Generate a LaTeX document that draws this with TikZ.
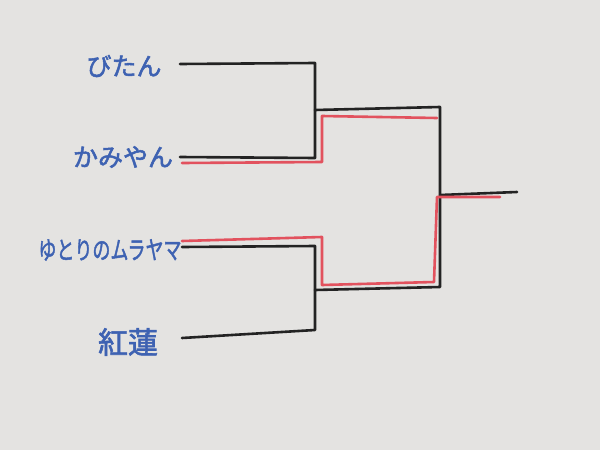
\documentclass[tikz,border=0pt]{standalone}
\usepackage{fontspec}
\newfontfamily\jpfont[FakeBold=2]{Noto Sans CJK JP}
\definecolor{board}{RGB}{228,227,225}
\definecolor{ink}{RGB}{62,98,178}
\definecolor{marker}{RGB}{35,35,35}
\definecolor{redmarker}{RGB}{226,82,94}

\begin{document}
\begin{tikzpicture}[x=1pt,y=-1pt,
  blk/.style={draw=marker,line width=2.6pt,line cap=round,line join=round},
  rd/.style={draw=redmarker,line width=2.6pt,line cap=round,line join=round},
  player/.style={text=ink,font=\jpfont\fontsize{25}{25}\selectfont,inner sep=0pt}]
\fill[board] (0,0) rectangle (600,450);
\useasboundingbox (0,0) rectangle (600,450);

\node[player] (bitan) at (124,66) {びたん};
\node[player] (kamiyan) at (123,157) {かみやん};
\node[player,xscale=0.72] (yutori) at (110,250) {ゆとりのムラヤマ};
\node[player,font=\jpfont\fontsize{30}{30}\selectfont] (guren) at (128,342) {紅蓮};

\path (180,64) coordinate(A);
\path (315,63) coordinate(B);
\path (180,157) coordinate(C);
\path (315,158) coordinate(D);
\path (182,247) coordinate(E);
\path (315,246) coordinate(F);
\path (182,338) coordinate(G);
\path (315,330) coordinate(H);
\path (315,110) coordinate(I);
\path (440,107) coordinate(J);
\path (315,290) coordinate(K);
\path (440,287) coordinate(L);
\path (440,195) coordinate(M);
\path (517,192) coordinate(N);

\draw[blk] (A)--(B)--(D)--(C);
\draw[blk] (E)--(F)--(H)--(G);
\draw[blk] (I)--(J)--(L)--(K);
\draw[blk] (M)--(N);

% winners
\path (182,163) coordinate(R1);
\path (322,162) coordinate(R2);
\path (322,116) coordinate(R3);
\path (437,118) coordinate(R4);
\draw[rd] (R1)--(R2)--(R3)--(R4);

\path (182,241) coordinate(S1);
\path (322,237) coordinate(S2);
\path (322,285) coordinate(S3);
\path (434,282) coordinate(S4);
\path (437,197) coordinate(S5);
\path (500,197) coordinate(S6);
\draw[rd] (S1)--(S2)--(S3)--(S4)--(S5)--(S6);
\end{tikzpicture}
\end{document}
